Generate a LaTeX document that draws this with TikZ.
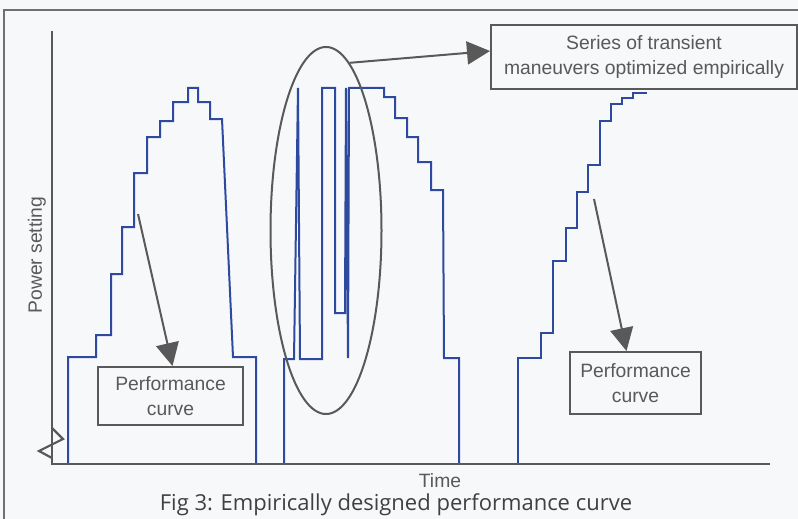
\documentclass[tikz,border=0pt]{standalone}
\usepackage{fontspec}
\setmainfont{Liberation Sans}
\newfontfamily\capfont{Open Sans}
\usetikzlibrary{shapes.geometric,arrows.meta}
\definecolor{bgc}{HTML}{F7F8FA}
\definecolor{grayline}{HTML}{595959}
\definecolor{frame}{HTML}{707070}
\definecolor{curveblue}{HTML}{2E4A9F}
\definecolor{captxt}{HTML}{404040}
\tikzset{
  curve/.style={draw=curveblue, line width=2pt, line join=miter},
  axis/.style={draw=grayline, line width=2.6pt},
  tbox/.style={draw=grayline, line width=2pt, fill=bgc, text=grayline, font=\fontsize{19.3}{25}\selectfont, align=center, inner sep=0pt},
  callout/.style={draw=grayline, line width=2pt, -{Triangle[length=23pt,width=23pt]}},
  lbl/.style={text=grayline, font=\fontsize{19.3}{23}\selectfont, inner sep=0pt}
}
\begin{document}
\begin{tikzpicture}[x=1pt,y=-1pt]
\fill[bgc] (0,0) rectangle (798,519);
\useasboundingbox (0,0) rectangle (798,519);
% outer frame
\draw[frame, line width=1.5pt] (4,519) -- (4,10) -- (798,10);
% curves
\draw[curve] (68,464) -- (68,357) -- (96,357) -- (96,335) -- (111,335) -- (111,274) -- (122,274) -- (122,227) -- (134,227) -- (134,173) -- (147,173) -- (147,137) -- (160,137) -- (160,121) -- (173,121) -- (173,102) -- (188,102) -- (188,88) -- (198,88) -- (198,102) -- (210,102) -- (210,119) -- (222,119) -- (233,357) -- (256,357) -- (256,464);
\draw[curve] (284,464) -- (284,359) -- (294,359) -- (298,88) -- (300,359) -- (322,359) -- (322,88) -- (335,88) -- (335,313) -- (345,313) -- (346,88) -- (348,358) -- (349,88) -- (384,88) -- (384,97) -- (395,97) -- (395,118) -- (407,118) -- (407,137) -- (418,137) -- (418,162) -- (431,162) -- (431,190) -- (443,190) -- (444,358) -- (459,358) -- (459,464);
\draw[curve] (518,464) -- (518,358) -- (541,358) -- (541,333) -- (553,333) -- (553,261) -- (566,261) -- (566,228) -- (577,228) -- (577,192) -- (588,192) -- (588,165) -- (600,165) -- (600,121) -- (611,121) -- (611,104) -- (622,104) -- (622,98) -- (633,98) -- (633,93) -- (646,93) -- (646,92);
% axes
\draw[axis] (52,31) -- (52,464) -- (770,464);
\draw[grayline, line width=2.2pt] (52,428) -- (63,439) -- (39,451) -- (52,458);
% ellipse
\node[ellipse, draw=grayline, line width=2pt, minimum width=111pt, minimum height=367pt, inner sep=0pt] (ell) at (326,230.5) {};
% boxes
\node[tbox, minimum width=306pt, minimum height=64pt] (series) at (644,57) {Series of transient\\maneuvers optimized empirically};
\node[tbox, minimum width=145pt, minimum height=58pt] (lbox) at (170.5,396) {Performance\\curve};
\node[tbox, minimum width=131pt, minimum height=62pt] (rbox) at (635.5,383) {Performance\\curve};
% callouts
\coordinate (la) at (138,214);
\coordinate (ra) at (594,199);
\draw[callout] (ell.82) -- ([yshift=6pt]series.west);
\draw[callout] (la) -- ([xshift=2pt]lbox.north);
\draw[callout] (ra) -- ([xshift=-9pt]rbox.north);
% labels
\node[lbl, rotate=90] (ylab) at (37,255) {Power setting};
\node[lbl] (xlab) at (440,481) {Time};
\node[text=captxt, font=\capfont\fontsize{22}{26}\selectfont, inner sep=0pt] (cap) at (396,505) {Fig 3: Empirically designed performance curve};
\end{tikzpicture}
\end{document}
